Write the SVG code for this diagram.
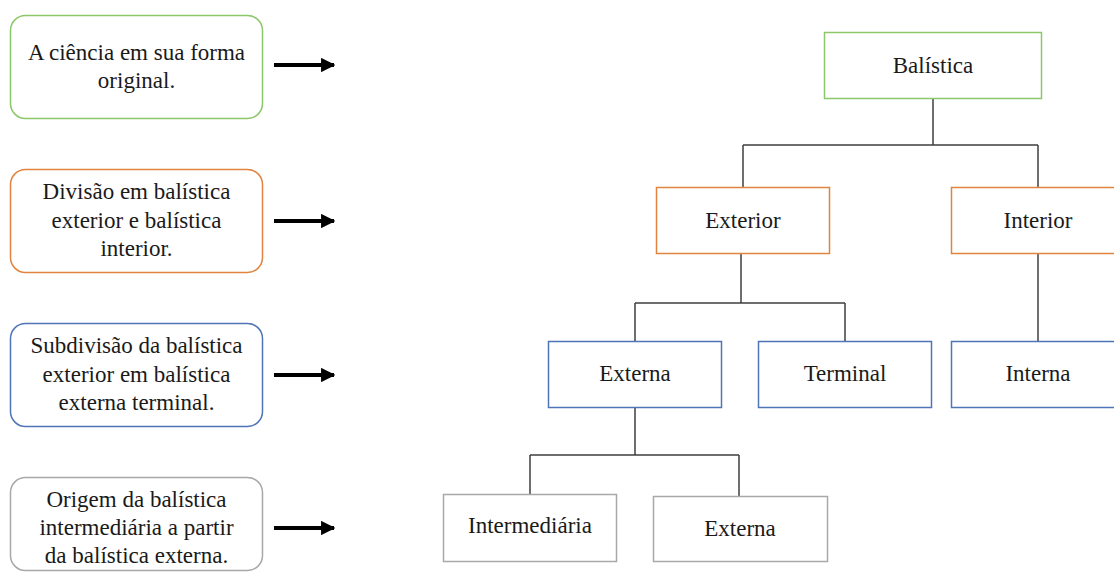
<svg xmlns="http://www.w3.org/2000/svg" width="1114" height="572" viewBox="0 0 1114 572">
<style>
text{font-family:'Liberation Serif','Times New Roman','DejaVu Serif',serif;font-size:23px;fill:#1a1a1a;text-anchor:middle}
.lb{fill:#fff;stroke-width:1.5}
.nd{fill:#fff;stroke-width:1.5}
.g{stroke:#8cc76a}
.o{stroke:#e0843f}
.b{stroke:#4f74b8}
.gr{stroke:#a8a8a8}
.cn{fill:none;stroke:#3f3f3f;stroke-width:1.5}
.ar{stroke:#000;stroke-width:4}
</style>
<defs>
<marker id="ah" viewBox="0 0 10 10" refX="9" refY="5" markerWidth="3.6" markerHeight="3.6" orient="auto" markerUnits="strokeWidth">
<path d="M0,0 L10,5 L0,10 z" fill="#000"/>
</marker>
</defs>
<rect width="1114" height="572" fill="#fff"/>
<g font-family="Liberation Serif, Times New Roman, serif">
<g id="desc1">
<rect class="lb g" x="10.5" y="15.5" width="252" height="103" rx="15"/>
<text x="136.5" y="60">A ciência em sua forma</text>
<text x="136.5" y="88">original.</text>
</g>
<g id="desc2">
<rect class="lb o" x="10.5" y="169.5" width="252" height="103" rx="15"/>
<text x="136.5" y="199">Divisão em balística</text>
<text x="136.5" y="228">exterior e balística</text>
<text x="136.5" y="256">interior.</text>
</g>
<g id="desc3">
<rect class="lb b" x="10.5" y="323.5" width="252" height="103" rx="15"/>
<text x="136.5" y="353">Subdivisão da balística</text>
<text x="136.5" y="382">exterior em balística</text>
<text x="136.5" y="410">externa terminal.</text>
</g>
<g id="desc4">
<rect class="lb gr" x="10.5" y="477.5" width="252" height="93" rx="15"/>
<text x="136.5" y="507">Origem da balística</text>
<text x="136.5" y="535">intermediária a partir</text>
<text x="136.5" y="563">da balística externa.</text>
</g>

<g id="arrows">
<line class="ar" x1="274" y1="65" x2="334" y2="65" marker-end="url(#ah)"/>
<line class="ar" x1="274" y1="221" x2="334" y2="221" marker-end="url(#ah)"/>
<line class="ar" x1="274" y1="375" x2="334" y2="375" marker-end="url(#ah)"/>
<line class="ar" x1="274" y1="528" x2="334" y2="528" marker-end="url(#ah)"/>
</g>

<g id="connectors">
<path class="cn" d="M933,98 V145 M743,145 H1038 M743,145 V187 M1038,145 V187"/>
<path class="cn" d="M741,253 V303 M635,303 H845 M635,303 V341 M845,303 V341"/>
<path class="cn" d="M1038,253 V341"/>
<path class="cn" d="M635,407 V455 M530,455 H739 M530,455 V494 M739,455 V496"/>
</g>

<g id="balistica">
<rect class="nd g" x="824.5" y="32.5" width="217" height="66"/>
<text x="933" y="73">Balística</text>
</g>
<g id="exterior">
<rect class="nd o" x="656.5" y="187.5" width="173" height="66"/>
<text x="743" y="228">Exterior</text>
</g>
<g id="interior">
<rect class="nd o" x="951.5" y="187.5" width="174" height="66"/>
<text x="1038" y="228">Interior</text>
</g>
<g id="externa">
<rect class="nd b" x="548.5" y="341.5" width="173" height="66"/>
<text x="635" y="381">Externa</text>
</g>
<g id="terminal">
<rect class="nd b" x="758.5" y="341.5" width="173" height="66"/>
<text x="845" y="381">Terminal</text>
</g>
<g id="interna">
<rect class="nd b" x="951.5" y="341.5" width="174" height="66"/>
<text x="1038" y="381">Interna</text>
</g>
<g id="intermediaria">
<rect class="nd gr" x="443.5" y="494.5" width="173" height="67"/>
<text x="530" y="533">Intermediária</text>
</g>
<g id="externa2">
<rect class="nd gr" x="653.5" y="496.5" width="174" height="65"/>
<text x="740" y="536">Externa</text>
</g>
</g>
</svg>
